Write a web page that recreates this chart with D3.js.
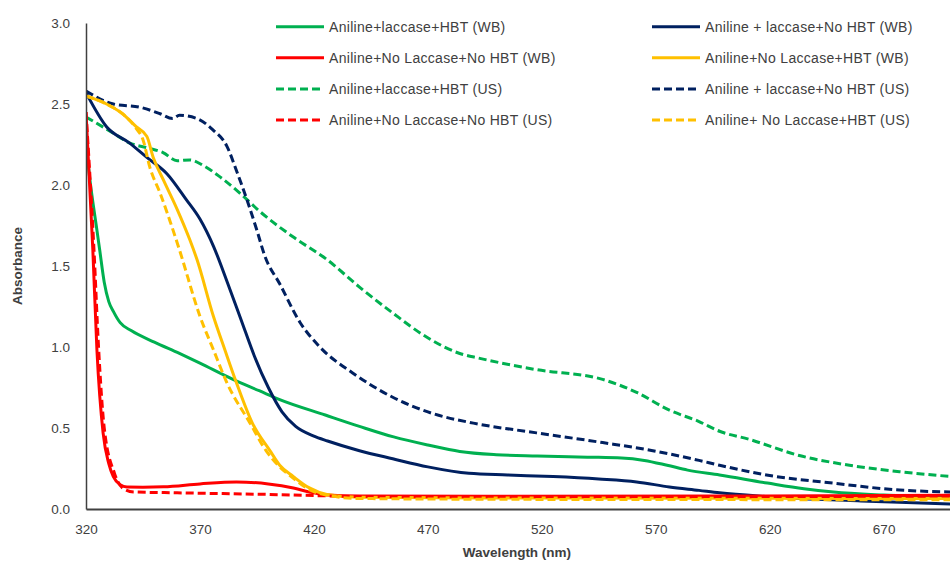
<!DOCTYPE html>
<html>
<head>
<meta charset="utf-8">
<script src="https://cdn.jsdelivr.net/npm/d3@7"></script>
<style>
  body { margin: 0; background: #fff; }
  svg { font-family: "Liberation Sans", Arial, sans-serif; }
  .axis text { fill: #404040; font-size: 13.5px; }
  .axis path { stroke: #404040; }
</style>
</head>
<body>
<svg id="chart" width="950" height="565"></svg>
<script>
// wavelength (nm) / absorbance pairs
var greenWB = [[320,2.25],[322,2.0],[324.5,1.75],[326,1.6],[328,1.4],[330,1.28],[332,1.22],[335,1.15],[340,1.10],[350,1.03],[361,0.96],[370,0.90],[384.5,0.80],[396,0.73],[405,0.675],[425,0.58],[440,0.51],[455,0.445],[470,0.395],[484,0.355],[500,0.335],[518,0.327],[540,0.32],[555,0.315],[565,0.30],[575,0.27],[584,0.24],[598,0.21],[619,0.16],[635,0.125],[648,0.105],[670,0.086],[700,0.07]];
var navyWB = [[320,2.57],[329,2.36],[339,2.26],[346.7,2.17],[355.5,2.07],[364,1.91],[370,1.79],[376,1.62],[382,1.40],[388,1.17],[394,0.94],[400,0.75],[406,0.60],[412,0.51],[420,0.45],[426,0.42],[440,0.36],[454.6,0.31],[470,0.26],[488,0.22],[505,0.21],[525,0.20],[545,0.185],[561.6,0.167],[576,0.136],[589,0.115],[598,0.10],[615,0.08],[633,0.065],[660,0.05],[680,0.04],[700,0.03]];
var redWB = [[320,2.45],[323,1.6],[324.8,0.98],[327.5,0.47],[330,0.28],[332,0.20],[335,0.15],[338,0.136],[345,0.135],[354,0.137],[370,0.155],[386,0.167],[400,0.155],[411,0.13],[418,0.105],[426,0.086],[440,0.08],[500,0.078],[600,0.08],[700,0.085]];
var yellowWB = [[320,2.55],[329,2.5],[336,2.44],[342,2.36],[346.7,2.30],[349.5,2.17],[354,2.03],[360,1.85],[365.6,1.66],[368.7,1.54],[375.9,1.19],[381,0.98],[386,0.78],[393,0.53],[400.7,0.36],[405,0.27],[411,0.20],[418,0.13],[425.7,0.09],[440,0.072],[500,0.068],[600,0.066],[700,0.065]];
var greenUS = [[320,2.42],[332,2.32],[339,2.26],[346.7,2.23],[353.8,2.20],[360,2.15],[365.6,2.155],[371.5,2.12],[378.8,2.05],[387.5,1.95],[396,1.84],[410.8,1.68],[425.7,1.54],[440,1.37],[454.6,1.21],[469.6,1.06],[484,0.96],[492.8,0.93],[517.7,0.86],[546.7,0.80],[561.6,0.72],[576,0.61],[589,0.54],[598,0.48],[611,0.43],[633,0.33],[655,0.27],[677,0.23],[700,0.20]];
var navyUS = [[320,2.58],[332,2.5],[343.7,2.48],[352.5,2.44],[358,2.41],[361,2.43],[368.7,2.41],[375.7,2.34],[381.8,2.24],[386,2.09],[390.6,1.91],[395,1.72],[398.5,1.56],[405,1.39],[414,1.15],[422.6,1.0],[437,0.84],[454.6,0.69],[472,0.59],[490,0.53],[517.7,0.47],[546.7,0.41],[568.7,0.36],[589,0.30],[598,0.27],[618.6,0.21],[647.6,0.16],[677,0.117],[700,0.105]];
var redUS = [[320,2.45],[323.5,1.6],[325.5,1.0],[328,0.5],[332.5,0.22],[336,0.13],[341,0.105],[360,0.10],[380,0.095],[400,0.09],[420,0.083],[440,0.077],[500,0.075],[600,0.076],[700,0.08]];
var yellowUS = [[320,2.55],[329,2.5],[336,2.44],[342,2.35],[345,2.28],[348,2.11],[352.5,1.95],[356.8,1.78],[361,1.6],[370,1.19],[376,0.98],[381.8,0.78],[392,0.53],[399,0.36],[405,0.26],[411,0.19],[418,0.12],[425.7,0.085],[440,0.065],[500,0.06],[600,0.058],[700,0.057]];

var seriesNames = [
  "Aniline+laccase+HBT (WB)", "Aniline + laccase+No HBT (WB)",
  "Aniline+No Laccase+No HBT (WB)", "Aniline+No Laccase+HBT (WB)",
  "Aniline+laccase+HBT (US)", "Aniline + laccase+No HBT (US)",
  "Aniline+No Laccase+No HBT (US)", "Aniline+ No Laccase+HBT (US)"
];
var seriesData = [greenWB, navyWB, redWB, yellowWB, greenUS, navyUS, redUS, yellowUS];
var seriesColors = ["#00B050", "#002060", "#FF0000", "#FFC000", "#00B050", "#002060", "#FF0000", "#FFC000"];
var seriesDashed = [false, false, false, false, true, true, true, true];

var xTicks = [320, 370, 420, 470, 520, 570, 620, 670];
var yTicks = [0, 0.5, 1.0, 1.5, 2.0, 2.5, 3.0];

var margin = {top: 23, left: 86, bottom: 56};
var width = 950, height = 565;

var svg = d3.select("#chart");

var x = d3.scaleLinear().domain([320, 700]).range([margin.left, 952]);
var y = d3.scaleLinear().domain([0, 3]).range([height - margin.bottom, margin.top]);

svg.append("defs").append("clipPath").attr("id", "plot")
  .append("rect")
    .attr("x", margin.left)
    .attr("y", margin.top - 5)
    .attr("width", width - margin.left)
    .attr("height", y(0) - margin.top + 5);

var line = d3.line()
    .curve(d3.curveMonotoneX)
    .x(function(d) { return x(d[0]); })
    .y(function(d) { return y(d[1]); });

var lines = seriesNames.map(function(name, i) {
  return {id: name, values: seriesData[i], color: seriesColors[i], dashed: seriesDashed[i]};
});

// draw order: dashed below solids so the floor looks like the original
var drawOrder = [4, 5, 0, 1, 2, 3, 6, 7];
svg.append("g").attr("clip-path", "url(#plot)")
  .selectAll("path")
  .data(drawOrder.map(function(i) { return lines[i]; }))
  .enter().append("path")
    .attr("fill", "none")
    .attr("stroke", function(d) { return d.color; })
    .attr("stroke-width", 3)
    .attr("stroke-dasharray", function(d) { return d.dashed ? "8,4" : null; })
    .attr("d", function(d) { return line(d.values); });

var xAxis = d3.axisBottom(x).tickValues(xTicks).tickSize(0).tickPadding(15).tickFormat(d3.format("d"));
var yAxis = d3.axisLeft(y).tickValues(yTicks).tickSize(0).tickPadding(16).tickFormat(d3.format(".1f"));

svg.append("g")
    .attr("class", "axis")
    .attr("transform", "translate(0," + y(0) + ")")
    .call(xAxis)
  .select(".domain").attr("stroke-width", 2);

svg.append("g")
    .attr("class", "axis")
    .attr("transform", "translate(" + margin.left + ",0)")
    .call(yAxis)
  .select(".domain").attr("stroke-width", 1.5);

svg.append("text")
    .attr("x", 517).attr("y", 557)
    .attr("text-anchor", "middle")
    .style("font-size", "13.5px").style("font-weight", "bold").style("fill", "#404040")
    .text("Wavelength (nm)");

svg.append("text")
    .attr("transform", "translate(22," + (y(1.5)) + ") rotate(-90)")
    .attr("text-anchor", "middle")
    .style("font-size", "13.5px").style("font-weight", "bold").style("fill", "#404040")
    .text("Absorbance");

// legend, two columns of four rows
var legend = svg.append("g").selectAll("g")
  .data(lines)
  .enter().append("g")
    .attr("transform", function(d, i) {
      var col = i % 2, row = Math.floor(i / 2);
      return "translate(" + (col ? 652 : 276) + "," + (26.7 + row * 31.1) + ")";
    });

legend.append("line")
    .attr("x1", 0).attr("x2", 48)
    .attr("stroke", function(d) { return d.color; })
    .attr("stroke-width", 3)
    .attr("stroke-dasharray", function(d) { return d.dashed ? "8,4" : null; });

legend.append("text")
    .attr("x", 53).attr("dy", "0.35em")
    .style("font-size", "14px").style("letter-spacing", "0.3px").style("fill", "#404040")
    .text(function(d) { return d.id; });
</script>
</body>
</html>
